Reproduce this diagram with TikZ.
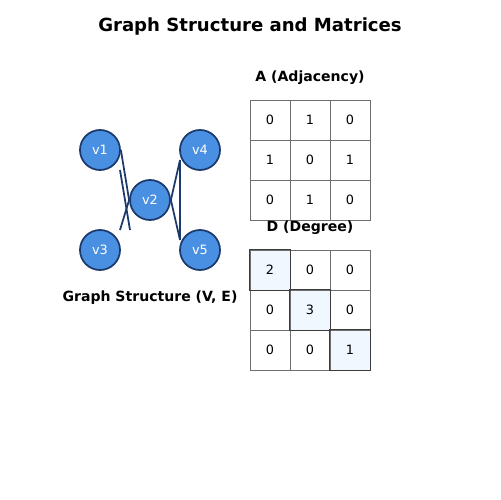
\documentclass[tikz,border=0pt]{standalone}
\usepackage{fontspec}
\setmainfont{DejaVu Sans}
\usetikzlibrary{positioning}

\definecolor{nodeblue}{RGB}{74,144,226}
\definecolor{edgeblue}{RGB}{28,58,107}
\definecolor{cellgray}{RGB}{110,110,110}
\definecolor{diagfill}{RGB}{240,247,255}
\definecolor{diagline}{RGB}{60,60,60}

\tikzset{
  vertex/.style={circle, draw=edgeblue, fill=nodeblue, line width=1pt,
    minimum size=0.8cm, inner sep=0pt, text=white,
    font=\fontsize{7.3}{8}\selectfont},
  edge/.style={draw=edgeblue, line width=1pt},
  cell/.style={rectangle, draw=cellgray, line width=0.5pt,
    minimum size=0.8cm, inner sep=0pt, font=\fontsize{7.3}{8}\selectfont},
  diagcell/.style={cell, fill=diagfill},
  heading/.style={font=\bfseries\fontsize{8}{9}\selectfont},
}

\begin{document}
\begin{tikzpicture}[x=0.02cm, y=-0.02cm]
      \useasboundingbox (0,0) rectangle (500,500);

      \node[font=\bfseries\fontsize{10.3}{12}\selectfont] (title) at (250,26.5) {Graph Structure and Matrices};

      % graph
      \node[vertex] (v1) at (100,150) {v1};
      \node[vertex] (v2) at (150,200) {v2};
      \node[vertex] (v3) at (100,250) {v3};
      \node[vertex] (v4) at (200,150) {v4};
      \node[vertex] (v5) at (200,250) {v5};

      \coordinate (l1) at (120,170);
      \coordinate (l2) at (130,230);
      \coordinate (l3) at (120,230);
      \coordinate (r1) at (180,160);
      \coordinate (r2) at (180,240);

      \draw[edge] (v1.east) -- (v2.west);
      \draw[edge] (v2.west) -- (l3);
      \draw[edge] (l1) -- (l2);
      \draw[edge] (r1) -- (v2.east);
      \draw[edge] (v2.east) -- (r2);
      \draw[edge] (r1) -- (r2);

      \node[heading] (glabel) at (150,297.5) {Graph Structure (V, E)};

      % adjacency matrix
      \node[heading] (alabel) at (310,77.5) {A (Adjacency)};
      \foreach \row [count=\r] in {{0,1,0},{1,0,1},{0,1,0}} {
        \foreach \val [count=\c] in \row {
          \node[cell] (a\r\c) at (230+40*\c, 80+40*\r) {\val};
        }
      }

      % degree matrix
      \node[heading] (dlabel) at (310,227.5) {D (Degree)};
      \foreach \row [count=\r] in {{2,0,0},{0,3,0},{0,0,1}} {
        \foreach \val [count=\c] in \row {
          \ifnum\r=\c \def\cellstyle{diagcell}\else\def\cellstyle{cell}\fi
          \node[\cellstyle] (d\r\c) at (230+40*\c, 230+40*\r) {\val};
        }
      }
      \foreach \i in {1,2,3}
        \draw[draw=diagline, line width=0.5pt] (d\i\i.north west) rectangle (d\i\i.south east);
    \end{tikzpicture}
\end{document}
